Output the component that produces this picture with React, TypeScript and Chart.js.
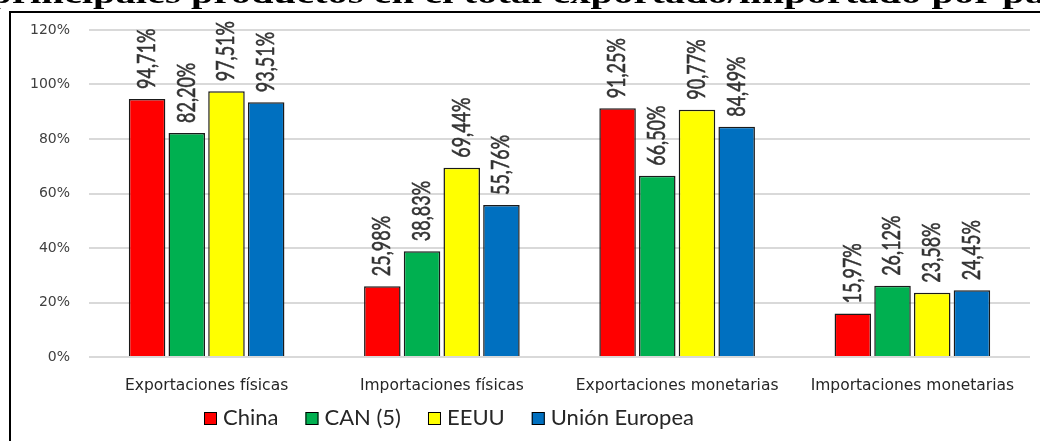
import React, { useEffect, useRef } from 'react';
import { Chart, registerables } from 'chart.js';

Chart.register(...registerables);

const categories = ['Exportaciones físicas', 'Importaciones físicas', 'Exportaciones monetarias', 'Importaciones monetarias'];
const seriesNames = ['China', 'CAN (5)', 'EEUU', 'Unión Europea'];
const seriesColors = ['#FF0000', '#00B050', '#FFFF00', '#0070C0'];
const chinaValues = [94.71, 25.98, 91.25, 15.97];
const canValues = [82.2, 38.83, 66.5, 26.12];
const eeuuValues = [97.51, 69.44, 90.77, 23.58];
const ueValues = [93.51, 55.76, 84.49, 24.45];
const yTickValues = [0, 20, 40, 60, 80, 100, 120];
const titlePrefix = 'Participación de los ';
const titleMain = 'principales productos en el total exportado/importado por país';

const fmt = (v: number) => v.toFixed(2).replace('.', ',') + '%';

const framePlugin = {
  id: 'frameTitle',
  beforeDraw(chart: any) {
    const ctx = chart.ctx;
    ctx.save();
    ctx.fillStyle = '#ffffff';
    ctx.fillRect(0, 0, chart.width, chart.height);
    ctx.font = 'bold 30px "Liberation Serif", serif';
    ctx.fillStyle = '#000000';
    ctx.textBaseline = 'alphabetic';
    ctx.textAlign = 'left';
    const sx = 1.35;
    const preW = ctx.measureText(titlePrefix + 'princi').width * sx;
    const startX = 93 - preW;
    ctx.translate(startX, 3);
    ctx.scale(sx, 1);
    ctx.fillText(titlePrefix + titleMain, 0, 0);
    ctx.restore();
    ctx.save();
    ctx.fillStyle = '#ffffff';
    ctx.fillRect(0, 11, chart.width, chart.height - 11);
    ctx.strokeStyle = '#000000';
    ctx.lineWidth = 2;
    ctx.beginPath();
    ctx.moveTo(10, chart.height);
    ctx.lineTo(10, 12);
    ctx.lineTo(chart.width, 12);
    ctx.stroke();
    ctx.restore();
  },
};

const valueLabelPlugin = {
  id: 'valueLabels',
  afterDatasetsDraw(chart: any) {
    const ctx = chart.ctx;
    chart.data.datasets.forEach((ds: any, di: number) => {
      const meta = chart.getDatasetMeta(di);
      meta.data.forEach((bar: any, i: number) => {
        const v = ds.data[i];
        ctx.save();
        ctx.translate(bar.x, bar.y - 10);
        ctx.rotate(-Math.PI / 2);
        ctx.scale(1, 1.35);
        ctx.font = '18px Lato, sans-serif';
        ctx.fillStyle = '#333333';
        ctx.strokeStyle = '#333333';
        ctx.lineWidth = 0.4;
        ctx.textAlign = 'left';
        ctx.textBaseline = 'middle';
        ctx.fillText(fmt(v), 0, 0);
        ctx.strokeText(fmt(v), 0, 0);
        ctx.restore();
      });
    });
  },
};

const legendPlugin = {
  id: 'customLegend',
  afterDraw(chart: any) {
    const ctx = chart.ctx;
    ctx.save();
    ctx.font = '22px Lato, sans-serif';
    ctx.textBaseline = 'alphabetic';
    ctx.textAlign = 'left';
    let x = 204;
    const baseY = 425;
    chart.data.datasets.forEach((ds: any) => {
      ctx.fillStyle = ds.backgroundColor;
      ctx.fillRect(x, baseY - 13, 13, 13);
      ctx.strokeStyle = '#000000';
      ctx.lineWidth = 1;
      ctx.strokeRect(x + 0.5, baseY - 12.5, 12, 12);
      const tx = x + 19;
      ctx.fillStyle = '#262626';
      ctx.fillText(ds.label, tx, baseY);
      x = tx + ctx.measureText(ds.label).width + 27;
    });
    ctx.restore();
  },
};

export default function App() {
  const ref = useRef<HTMLCanvasElement | null>(null);
  useEffect(() => {
    if (!ref.current) return;
    const valuesList = [chinaValues, canValues, eeuuValues, ueValues];
    const chart = new Chart(ref.current, {
      type: 'bar',
      data: {
        labels: categories,
        datasets: seriesNames.map((name, i) => ({
          label: name,
          data: valuesList[i],
          backgroundColor: seriesColors[i],
          borderColor: '#1a1a1a',
          borderWidth: 1.5,
          categoryPercentage: 0.675,
          barPercentage: 0.92,
        })),
      },
      options: {
        responsive: false,
        animation: false,
        layout: { padding: { left: 0, right: 10, top: 30, bottom: 0 } },
        plugins: {
          legend: { display: false },
          title: { display: false },
          tooltip: { enabled: false },
        },
        scales: {
          x: {
            grid: { display: false },
            border: { display: false },
            ticks: {
              padding: 12,
              color: '#262626',
              font: { family: '"DejaVu Sans", sans-serif', size: 15.5 },
              maxRotation: 0,
              autoSkip: false,
            },
            afterFit: (scale: any) => {
              scale.height = 84;
            },
          },
          y: {
            min: 0,
            max: 120,
            border: { display: false },
            grid: { color: '#d9d9d9', lineWidth: 2, drawTicks: false },
            afterBuildTicks: (scale: any) => {
              scale.ticks = yTickValues.map((v) => ({ value: v }));
            },
            ticks: {
              padding: 19,
              color: '#404040',
              font: { family: '"DejaVu Sans", sans-serif', size: 14 },
              callback: (v: any) => v + '%',
            },
            afterFit: (scale: any) => {
              scale.width = 89;
            },
          },
        },
      },
      plugins: [framePlugin, valueLabelPlugin, legendPlugin],
    });
    return () => chart.destroy();
  }, []);
  return (
    <div style={{ position: 'fixed', left: 0, top: 0, width: 1040, height: 441, background: '#fff' }}>
      <canvas ref={ref} width={1040} height={441} style={{ display: 'block', width: 1040, height: 441 }} />
    </div>
  );
}
